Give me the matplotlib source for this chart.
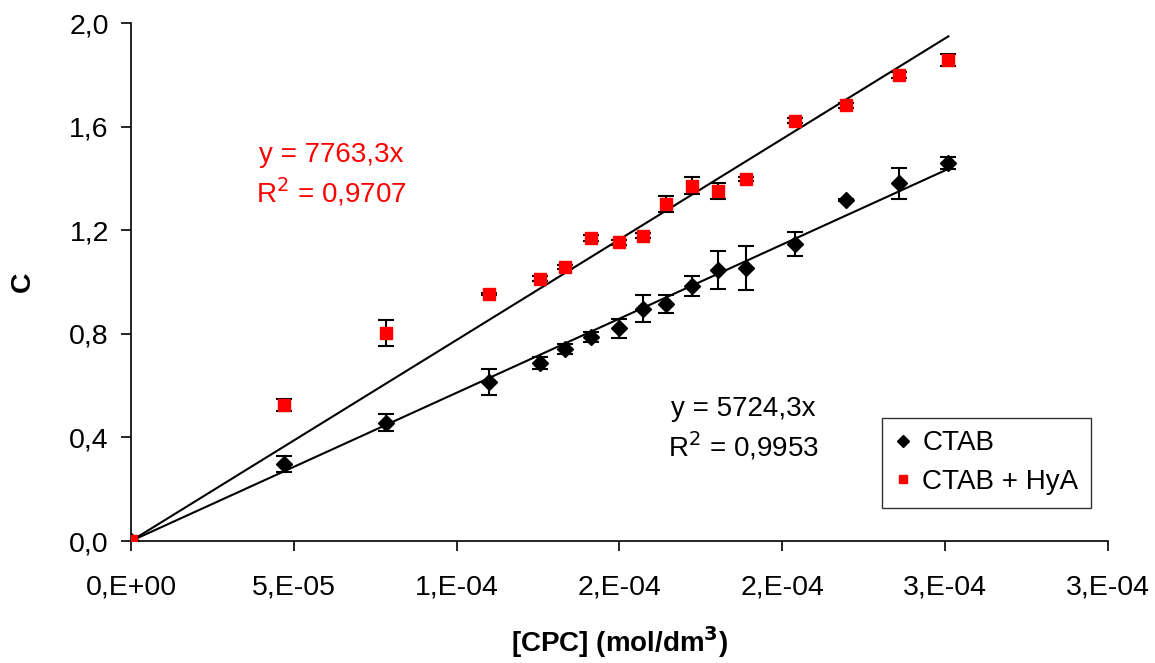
import matplotlib.pyplot as plt
import numpy as np

plt.rcParams['font.family'] = ['Liberation Sans', 'DejaVu Sans']

# CTAB data
x_ctab = [0, 4.69e-5, 7.82e-5, 1.10e-4, 1.255e-4, 1.334e-4, 1.414e-4, 1.497e-4, 1.571e-4,
          1.644e-4, 1.724e-4, 1.804e-4, 1.887e-4, 2.040e-4, 2.196e-4, 2.359e-4, 2.509e-4]
y_ctab = [0, 0.297, 0.456, 0.614, 0.687, 0.741, 0.788, 0.822, 0.896,
          0.915, 0.985, 1.046, 1.054, 1.147, 1.317, 1.382, 1.459]
e_ctab = [0, 0.03, 0.033, 0.05, 0.023, 0.02, 0.02, 0.037, 0.052,
          0.035, 0.04, 0.073, 0.085, 0.048, 0.005, 0.06, 0.023]

# CTAB + HyA data
x_hya = [0, 4.69e-5, 7.82e-5, 1.10e-4, 1.255e-4, 1.334e-4, 1.414e-4, 1.497e-4, 1.571e-4,
         1.644e-4, 1.724e-4, 1.804e-4, 1.887e-4, 2.040e-4, 2.196e-4, 2.359e-4, 2.509e-4]
y_hya = [0, 0.525, 0.803, 0.954, 1.012, 1.058, 1.170, 1.154, 1.178,
         1.301, 1.371, 1.351, 1.398, 1.622, 1.683, 1.799, 1.857]
e_hya = [0, 0.023, 0.05, 0.005, 0.01, 0.008, 0.01, 0.01, 0.01,
         0.03, 0.033, 0.03, 0.008, 0.01, 0.01, 0.012, 0.022]

slope_ctab = 5724.3
slope_hya = 7763.3

x_ticks = [0, 5e-5, 1e-4, 1.5e-4, 2e-4, 2.5e-4, 3e-4]
x_labels = ["0,E+00", "5,E-05", "1,E-04", "2,E-04", "2,E-04", "3,E-04", "3,E-04"]
y_ticks = [0, 0.4, 0.8, 1.2, 1.6, 2.0]
y_labels = ["0,0", "0,4", "0,8", "1,2", "1,6", "2,0"]

fig = plt.figure(figsize=(11.55, 6.63), dpi=100)
ax = fig.add_axes([0.1134, 0.184, 0.8459, 0.7813])

# fit lines
xf = np.array([0, 2.51e-4])
ax.plot(xf, slope_hya * xf, color='black', lw=1.5, zorder=2)
ax.plot(xf, slope_ctab * xf, color='black', lw=1.5, zorder=2)

ax.errorbar(x_ctab, y_ctab, yerr=e_ctab, fmt='none', ecolor='black', elinewidth=1.5,
            capsize=5.5, capthick=1.5, zorder=3)
ax.errorbar(x_hya, y_hya, yerr=e_hya, fmt='none', ecolor='black', elinewidth=1.5,
            capsize=5.5, capthick=1.5, zorder=3)
ax.plot(x_ctab, y_ctab, 'D', color='black', ms=8, lw=0, label='CTAB', zorder=4)
ax.plot(x_hya, y_hya, 's', color='#ff0000', ms=8.5, lw=0, label='CTAB + HyA', zorder=4)

ax.set_xlim(0, 3e-4)
ax.set_ylim(0, 2.0)
ax.set_xticks(x_ticks)
ax.set_xticklabels(x_labels)
ax.set_yticks(y_ticks)
ax.set_yticklabels(y_labels)
ax.tick_params(labelsize=20.5, direction='out', length=7, width=1.2)
ax.tick_params(axis='x', pad=17)
ax.tick_params(axis='y', pad=9)
ax.spines['top'].set_visible(False)
ax.spines['right'].set_visible(False)
for s in ['left', 'bottom']:
    ax.spines[s].set_linewidth(1.2)

ax.set_xlabel(r"[CPC] (mol/dm$\mathbf{^3}$)", fontsize=20, fontweight='bold', labelpad=17)
ax.set_ylabel("C", fontsize=20.5, fontweight='bold', labelpad=24)

# trendline equations
ax.text(0.205, 0.745, "y = 7763,3x", transform=ax.transAxes, ha='center', va='center',
        fontsize=20, color='#ff0000')
ax.text(0.205, 0.674, "R$^2$ = 0,9707", transform=ax.transAxes, ha='center', va='center',
        fontsize=20, color='#ff0000')
ax.text(0.627, 0.255, "y = 5724,3x", transform=ax.transAxes, ha='center', va='center',
        fontsize=20, color='black')
ax.text(0.627, 0.183, "R$^2$ = 0,9953", transform=ax.transAxes, ha='center', va='center',
        fontsize=20, color='black')

leg = ax.legend(loc='upper left', bbox_to_anchor=(882 / 1155, (663 - 418) / 663),
                bbox_transform=fig.transFigure, fontsize=20, frameon=True, fancybox=False,
                edgecolor='black', handlelength=0.6, handletextpad=0.4, borderpad=0.45,
                labelspacing=0.45, numpoints=1, markerscale=0.75, borderaxespad=0)
leg.get_frame().set_linewidth(1.0)

fig.savefig('out.png', dpi=100)
